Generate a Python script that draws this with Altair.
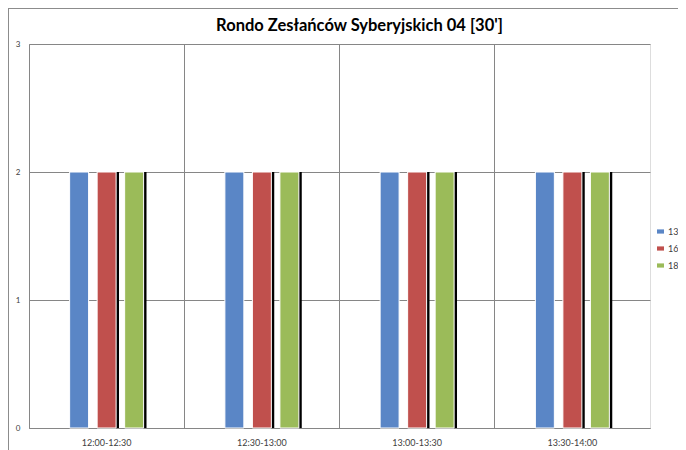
import altair as alt
import pandas as pd

categories = ["12:00-12:30", "12:30-13:00", "13:00-13:30", "13:30-14:00"]
series = ["13", "16", "18"]
values = {
    "13": [2, 2, 2, 2],
    "16": [2, 2, 2, 2],
    "18": [2, 2, 2, 2],
}
colors = ["#5a86c6", "#c0504d", "#9bbb59"]
title_text = "Rondo Zesłańców Syberyjskich 04 [30']"

rows = []
for s in series:
    for c, v in zip(categories, values[s]):
        rows.append({"cat": c, "series": s, "value": v})
df = pd.DataFrame(rows)

FONT = "Lato"

x_enc = alt.X(
    "cat:N",
    sort=categories,
    title=None,
    scale=alt.Scale(paddingInner=0, paddingOuter=0),
    axis=alt.Axis(
        labelAngle=0, ticks=False, grid=True, bandPosition=0,
        gridColor="#868686", domainColor="#868686", labelFontSize=9,
        labelColor="#404040", labelPadding=10, labelFont=FONT,
    ),
)
y_enc = alt.Y(
    "value:Q",
    title=None,
    scale=alt.Scale(domain=[0, 3], nice=False),
    axis=alt.Axis(
        values=[0, 1, 2, 3], ticks=False, grid=True, gridColor="#868686",
        domainColor="#868686", labelFontSize=8, labelColor="#404040",
        labelPadding=9, labelFont=FONT, format="d",
    ),
)
slot_domain = ["_a"] + series + ["_b"]
xoff = alt.XOffset(
    "series:N",
    scale=alt.Scale(domain=slot_domain, paddingInner=0.31, paddingOuter=0.477),
)
# same slots, shifted a few pixels right for the drop shadow
xoff_shadow = alt.XOffset(
    "series:N",
    scale=alt.Scale(domain=slot_domain, paddingInner=0.31, paddingOuter=0.477, align=0.61),
)

base = alt.Chart(df)

shadow = base.transform_filter(
    alt.FieldOneOfPredicate(field="series", oneOf=["16", "18"])
).mark_bar(color="black").encode(
    x=x_enc, y=y_enc, xOffset=xoff_shadow
)

bars = base.mark_bar(stroke="white", strokeWidth=1).encode(
    x=x_enc,
    y=y_enc,
    xOffset=xoff,
    color=alt.Color(
        "series:N",
        sort=series,
        scale=alt.Scale(domain=series, range=colors),
        legend=alt.Legend(
            title=None, orient="none", legendX=627, legendY=183,
            symbolType="M-1,-0.6H1V0.6H-1Z", symbolSize=49,
            symbolStrokeWidth=0, labelFontSize=9, labelColor="#404040",
            labelFont=FONT, rowPadding=7, labelOffset=3,
        ),
    ),
)

frame_left = alt.Chart(pd.DataFrame({"a": [0]})).mark_rule(
    color="#8c8c8c", strokeWidth=1
).encode(x=alt.value(-20.5), y=alt.value(-36), y2=alt.value(420))
frame_top = alt.Chart(pd.DataFrame({"a": [0]})).mark_rule(
    color="#8c8c8c", strokeWidth=1
).encode(x=alt.value(-21), x2=alt.value(700), y=alt.value(-35.5))

chart = alt.layer(frame_left, frame_top, shadow, bars).resolve_scale(
    xOffset="independent"
).properties(
    width=621,
    height=384,
    autosize=alt.AutoSizeParams(type="none"),
    padding={"left": 21, "top": 36, "right": 28, "bottom": 22},
    title=alt.TitleParams(
        title_text, font=FONT, fontSize=16.5, fontWeight="bold",
        color="#000000", anchor="middle", dx=20, dy=37, offset=10,
    ),
).configure_view(stroke="black", strokeWidth=1).configure(background="white")

chart.save("out.html", embed_options={"renderer": "svg", "actions": False})
